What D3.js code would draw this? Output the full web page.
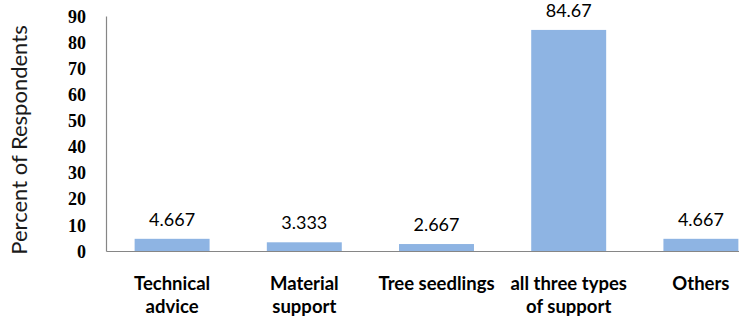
<!DOCTYPE html>
<html>
<head>
<meta charset="utf-8">
<script src="https://cdn.jsdelivr.net/npm/d3@7"></script>
<style>
  html, body { margin: 0; padding: 0; background: #fff; }
  svg { display: block; }
</style>
</head>
<body>
<svg id="chart" width="739" height="321"></svg>
<script>
// Forms of support received, share of respondents (%)
const categories = [
  ["Technical", "advice"],
  ["Material", "support"],
  ["Tree seedlings"],
  ["all three types", "of support"],
  ["Others"]
];
const values = [4.667, 3.333, 2.667, 84.67, 4.667];
const valueLabels = ["4.667", "3.333", "2.667", "84.67", "4.667"];
const yTicks = [0, 10, 20, 30, 40, 50, 60, 70, 80, 90];

const svg = d3.select("#chart");
const plotLeft = 106, plotRight = 767, plotTop = 16, plotBottom = 251;

const x = d3.scaleBand()
  .domain(d3.range(values.length))
  .range([plotLeft, plotRight])
  .paddingInner(0.433)
  .paddingOuter(0.2165);

const y = d3.scaleLinear().domain([0, 90]).range([plotBottom, plotTop]);

// bars
svg.append("g").selectAll("rect")
  .data(values)
  .join("rect")
  .attr("x", (d, i) => x(i))
  .attr("width", x.bandwidth())
  .attr("y", d => y(d))
  .attr("height", d => y(0) - y(d))
  .attr("fill", "#8EB4E3");

// y axis
const yAxis = svg.append("g")
  .attr("transform", `translate(${plotLeft},0)`)
  .call(d3.axisLeft(y).tickValues(yTicks).tickSize(0).tickPadding(20));
yAxis.select(".domain").attr("stroke", "#868686").attr("stroke-width", 1.2);
yAxis.selectAll("text")
  .attr("font-family", "'Liberation Serif', serif")
  .attr("font-weight", "bold")
  .attr("font-size", 18)
  .attr("dy", "0.34em")
  .attr("fill", "#000");

// x axis
const xAxis = svg.append("g")
  .attr("transform", `translate(0,${plotBottom})`)
  .call(d3.axisBottom(x).tickSize(0).tickFormat(""));
xAxis.select(".domain").attr("stroke", "#868686").attr("stroke-width", 1.2);

// category labels
const catG = svg.append("g")
  .attr("font-family", "Lato, 'Open Sans', sans-serif")
  .attr("font-weight", "bold")
  .attr("font-size", 18.5)
  .attr("fill", "#000")
  .attr("text-anchor", "middle");
categories.forEach((lines, i) => {
  const cx = x(i) + x.bandwidth() / 2;
  const t = catG.append("text").attr("x", cx).attr("y", 290);
  lines.forEach((ln, k) => {
    t.append("tspan")
      .attr("x", cx)
      .attr("dy", k === 0 ? 0 : 23)
      .text(ln);
  });
});

// value labels
svg.append("g")
  .attr("font-family", "Lato, 'Open Sans', sans-serif")
  .attr("font-size", 18)
  .attr("fill", "#000")
  .attr("text-anchor", "middle")
  .selectAll("text")
  .data(values)
  .join("text")
  .attr("x", (d, i) => x(i) + x.bandwidth() / 2)
  .attr("y", d => y(d) - 13)
  .text((d, i) => valueLabels[i]);

// y axis title
svg.append("text")
  .attr("transform", `translate(27,140) rotate(-90)`)
  .attr("text-anchor", "middle")
  .attr("font-family", "Lato, 'Open Sans', sans-serif")
  .attr("font-size", 22)
  .attr("fill", "#1a1a1a")
  .text("Percent of Respondents");
</script>
</body>
</html>
